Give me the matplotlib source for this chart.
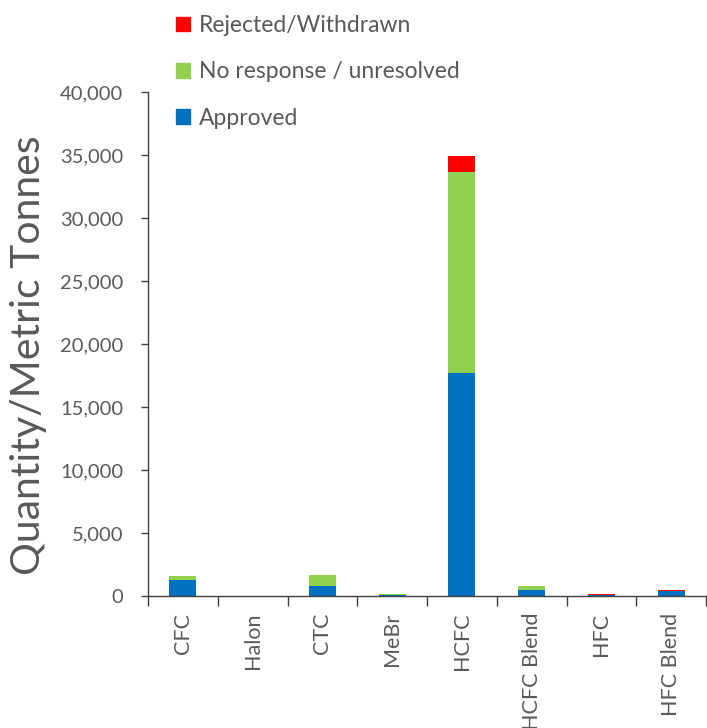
import matplotlib
matplotlib.use("Agg")
import matplotlib.pyplot as plt
import numpy as np
from matplotlib.ticker import FuncFormatter, FixedLocator
from matplotlib.patches import Patch

categories = ["CFC", "Halon", "CTC", "MeBr", "HCFC", "HCFC Blend", "HFC", "HFC Blend"]
approved = [1300, 0, 800, 60, 17700, 480, 50, 370]
no_response = [300, 0, 870, 100, 15950, 310, 0, 20]
rejected = [0, 0, 0, 0, 1270, 0, 110, 110]

series_labels = ["Approved", "No response / unresolved", "Rejected/Withdrawn"]
colors = ["#0070C0", "#92D050", "#FF0000"]

plt.rcParams['font.family'] = ['Lato', 'DejaVu Sans']
txt = "#595959"

fig = plt.figure(figsize=(7.07, 7.28), dpi=100)
ax = fig.add_axes([148/707, 1-596/728, (706-148)/707, (596-92)/728])

x = np.arange(len(categories))
w = 0.39
a = np.array(approved); n = np.array(no_response); r = np.array(rejected)
ax.bar(x, a, w, color=colors[0])
ax.bar(x, n, w, bottom=a, color=colors[1])
ax.bar(x, r, w, bottom=a+n, color=colors[2])

ax.set_xlim(-0.5, len(categories)-0.5)
ax.set_ylim(0, 40000)
ax.set_yticks(np.arange(0, 40001, 5000))
ax.yaxis.set_major_formatter(FuncFormatter(lambda v, p: f"{int(v):,}"))

ax.set_xticks(x)
ax.set_xticklabels(categories, rotation=90, fontsize=15.5, color=txt)
ax.xaxis.set_minor_locator(FixedLocator(np.arange(-0.5, len(categories), 1.0)))
ax.tick_params(axis='x', which='major', length=0, pad=12)
ax.tick_params(axis='x', which='minor', length=7, width=1, color="#404040", direction='out')
ax.tick_params(axis='y', length=5, width=1, color="#404040", labelsize=14.5, labelcolor=txt, pad=13)

for s in ["top", "right"]:
    ax.spines[s].set_visible(False)
for s in ["left", "bottom"]:
    ax.spines[s].set_color("#404040")
    ax.spines[s].set_linewidth(1)

ax.set_ylabel("Quantity/Metric Tonnes", fontsize=29.5, color=txt)
ax.yaxis.set_label_coords((47-148)/558, (596-355)/504)

handles = [Patch(color=colors[2]), Patch(color=colors[1]), Patch(color=colors[0])]
labels = [series_labels[2], series_labels[1], series_labels[0]]
fig.legend(handles, labels, loc='upper left', bbox_to_anchor=(167/707, 1-6/728),
           frameon=False, fontsize=16.5, labelcolor=txt, handlelength=0.6, handleheight=0.6,
           handletextpad=0.4, labelspacing=1.1, borderaxespad=0)

fig.savefig("out.png", dpi=100)
